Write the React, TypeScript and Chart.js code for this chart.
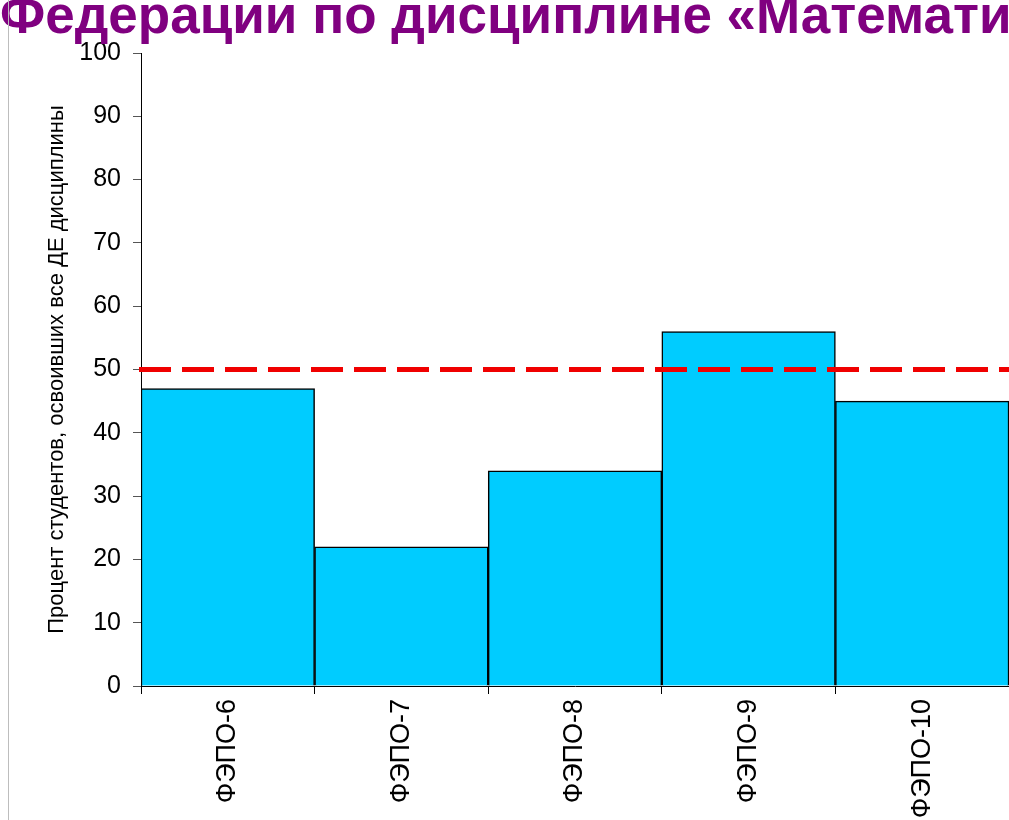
import React, { useEffect, useRef } from "react";
import { Chart, registerables } from "chart.js";

Chart.register(...registerables);

const categories = ["ФЭПО-6", "ФЭПО-7", "ФЭПО-8", "ФЭПО-9", "ФЭПО-10"];
const percentValues = [47, 22, 34, 56, 45];
const thresholdValue = 50;
const yMin = 0;
const yMax = 100;
const yStep = 10;
const yAxisTitle = "Процент студентов, освоивших все ДЕ дисциплины";
const headingText = "Федерации по дисциплине «Математика»";

const thresholdPlugin = {
  id: "thresholdLine",
  afterDatasetsDraw(chart: any) {
    const { ctx, chartArea, scales } = chart;
    const y = scales.y.getPixelForValue(thresholdValue);
    ctx.save();
    ctx.strokeStyle = "#f00000";
    ctx.lineWidth = 5;
    ctx.setLineDash([32, 11]);
    ctx.beginPath();
    ctx.moveTo(chartArea.left - 2, y);
    ctx.lineTo(chartArea.right, y);
    ctx.stroke();
    ctx.restore();
  },
};

export default function App() {
  const canvasRef = useRef<HTMLCanvasElement | null>(null);

  useEffect(() => {
    if (!canvasRef.current) return;
    const chart = new Chart(canvasRef.current, {
      type: "bar",
      data: {
        labels: categories,
        datasets: [
          {
            data: percentValues,
            backgroundColor: "#00ccff",
            borderColor: "#000000",
            borderWidth: 1.5,
            categoryPercentage: 1,
            barPercentage: 1,
          },
        ],
      },
      options: {
        responsive: false,
        animation: false,
        layout: { padding: { top: 53, left: 0, right: 0, bottom: 0 } },
        plugins: {
          legend: { display: false },
          tooltip: { enabled: false },
        },
        scales: {
          x: {
            offset: true,
            grid: {
              display: true,
              offset: true,
              drawOnChartArea: false,
              drawTicks: true,
              tickLength: 8,
              color: "#000000",
            },
            border: { display: true, color: "#000000", width: 1 },
            ticks: {
              minRotation: 90,
              maxRotation: 90,
              padding: 5,
              color: "#000000",
              font: { family: "Arial, 'Liberation Sans', sans-serif", size: 27 },
            },
            afterFit(scale: any) {
              scale.height = 134;
            },
          },
          y: {
            min: yMin,
            max: yMax,
            grid: {
              display: true,
              drawOnChartArea: false,
              drawTicks: true,
              tickLength: 8,
              color: "#555555",
            },
            border: { display: true, color: "#000000", width: 1 },
            ticks: {
              stepSize: yStep,
              padding: 12,
              color: "#000000",
              font: { family: "Arial, 'Liberation Sans', sans-serif", size: 25 },
            },
            title: {
              display: true,
              text: yAxisTitle,
              color: "#000000",
              padding: { top: 44, bottom: 0 },
              font: { family: "Arial, 'Liberation Sans', sans-serif", size: 22 },
            },
            afterFit(scale: any) {
              scale.width = 141;
            },
          },
        },
      },
      plugins: [thresholdPlugin],
    });
    return () => chart.destroy();
  }, []);

  return (
    <div
      style={{
        position: "fixed",
        left: 0,
        top: 0,
        width: 1009,
        height: 820,
        overflow: "hidden",
        background: "#ffffff",
      }}
    >
      <canvas
        ref={canvasRef}
        width={1009}
        height={820}
        style={{ position: "absolute", left: 0, top: 0 }}
      />
      <div
        style={{
          position: "absolute",
          left: 0,
          top: -12,
          fontFamily: "Arial, 'Liberation Sans', sans-serif",
          fontWeight: "bold",
          fontSize: 53,
          lineHeight: "53px",
          color: "#800080",
          whiteSpace: "nowrap",
        }}
      >
        {headingText}
      </div>
      <div
        style={{
          position: "absolute",
          left: 8,
          top: 0,
          width: 1,
          height: 820,
          background: "#bdbdbd",
        }}
      />
    </div>
  );
}
